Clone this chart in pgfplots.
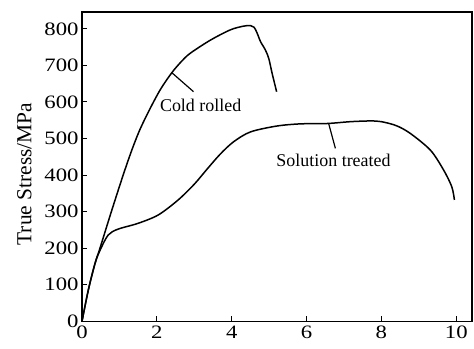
\documentclass[border=0pt]{standalone}
\usepackage{pgfplots}
\pgfplotsset{compat=1.18}
\usepackage{fontspec}
\setmainfont{Liberation Serif}
\newfontfamily\tickfont{Liberation Serif}[FakeStretch=1.2]
\begin{document}
\begin{tikzpicture}
\begin{axis}[
  scale only axis,
  width=390bp, height=309.3bp,
  xmin=0, xmax=10.42, ymin=0, ymax=846,
  xtick={0,2,4,6,8,10},
  ytick={0,100,200,300,400,500,600,700,800},
  /pgf/number format/assume math mode=true,
  tick pos=left,
  tick align=inside,
  major tick length=5bp,
  axis line style={line width=1.1bp},
  tick style={line width=1bp, black},
  ticklabel style={font=\tickfont\fontsize{19}{19}\selectfont},
  xticklabel style={yshift=-1bp},
  ylabel={True Stress/MPa},
  ylabel style={font=\fontsize{21.5}{21.5}\selectfont, at={(axis description cs:-0.148,0.476)}, anchor=center},
  clip=false,
]
% Cold rolled
\addplot[black, line width=1.5bp, smooth, tension=0.5] coordinates {
(0,0) (0.17,86) (0.35,159) (0.48,200) (0.8,305) (1.1,400) (1.33,468) (1.55,525) (1.82,582) (2.1,635) (2.40,680) (2.65,710) (2.89,733) (3.43,769) (3.96,797) (4.3,807) (4.5,809) (4.6,804) (4.68,788) (4.77,765) (4.9,742) (4.99,719) (5.08,678) (5.2,628)
};
% Solution treated
\addplot[black, line width=1.5bp, smooth, tension=0.5] coordinates {
(0,0) (0.17,86) (0.35,159) (0.49,196) (0.7,236) (0.96,252) (1.5,268) (2.04,291) (2.57,332) (3.0,375) (3.34,416) (3.7,458) (4.05,491) (4.5,518) (5.2,534) (5.83,540) (6.55,541) (7.17,546) (7.7,548) (8.0,546) (8.4,535) (8.77,514) (9.31,468) (9.66,414) (9.88,368) (9.95,332)
};
% leader lines
\addplot[black, line width=1.2bp] coordinates {(2.40,680) (2.98,628)};
\addplot[black, line width=1.2bp] coordinates {(6.59,541) (6.77,473)};
\node[font=\fontsize{18}{18}\selectfont] at (axis cs:3.17,591) {Cold rolled};
\node[font=\fontsize{18}{18}\selectfont] at (axis cs:6.72,439) {Solution treated};
\end{axis}
\pgfresetboundingbox
\path (-82bp,-27.7bp) rectangle (392bp,321.3bp);
\end{tikzpicture}
\end{document}
